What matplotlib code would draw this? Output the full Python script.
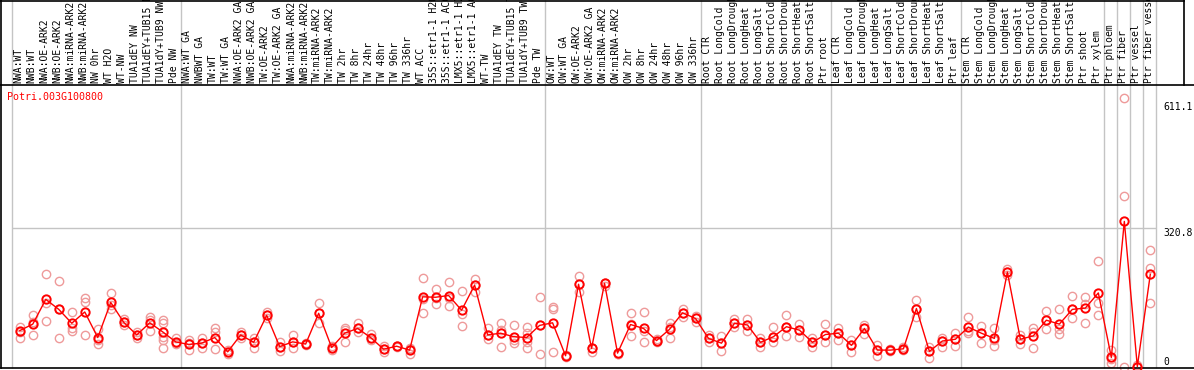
import matplotlib
matplotlib.use("Agg")
import matplotlib.pyplot as plt
import matplotlib.transforms as mtransforms
from matplotlib.lines import Line2D

gene = "Potri.003G100800"

samples = [
    "NWA:WT", "NWB:WT", "NWA:OE-ARK2", "NWB:OE-ARK2", "NWA:miRNA-ARK2", "NWB:miRNA-ARK2",
    "NW 0hr", "WT H2O", "WT-NW", "TUA1dEY NW", "TUA1dEY+TUB15 NW", "TUA1dY+TUB9 NW", "Pde NW",
    "NWA:WT GA", "NWBWT GA", "TW:WT", "TW:WT GA", "NWA:OE-ARK2 GA", "NWB:OE-ARK2 GA",
    "TW:OE-ARK2", "TW:OE-ARK2 GA", "NWA:miRNA-ARK2", "NWB:miRNA-ARK2", "TW:miRNA-ARK2",
    "TW:miRNA-ARK2", "TW 2hr", "TW 8hr", "TW 24hr", "TW 48hr", "TW 96hr", "TW 336hr",
    "WT ACC", "35S::etr1-1 H2O", "35S::etr1-1 ACC", "LMX5::etr1-1 H2O", "LMX5::etr1-1 ACC",
    "WT-TW", "TUA1dEY TW", "TUA1dEY+TUB15 TW", "TUA1dY+TUB9 TW", "Pde TW",
    "OW:WT", "OW:WT GA", "OW:OE-ARK2", "OW:OE-ARK2 GA", "OW:miRNA-ARK2", "OW:miRNA-ARK2",
    "OW 2hr", "OW 8hr", "OW 24hr", "OW 48hr", "OW 96hr", "OW 336hr",
    "Root CTR", "Root LongCold", "Root LongDrought", "Root LongHeat", "Root LongSalt",
    "Root ShortCold", "Root ShortDrought", "Root ShortHeat", "Root ShortSalt", "Ptr root",
    "Leaf CTR", "Leaf LongCold", "Leaf LongDrought", "Leaf LongHeat", "Leaf LongSalt",
    "Leaf ShortCold", "Leaf ShortDrought", "Leaf ShortHeat", "Leaf ShortSalt", "Ptr leaf",
    "Stem CTR", "Stem LongCold", "Stem LongDrought", "Stem LongHeat", "Stem LongSalt",
    "Stem ShortCold", "Stem ShortDrought", "Stem ShortHeat", "Stem ShortSalt", "Ptr shoot",
    "Ptr xylem", "Ptr phloem", "Ptr fiber", "Ptr vessel", "Ptr fiber vessel",
]

# number of samples in each block between grey separators
group_sizes = [13, 28, 12, 10, 10, 11, 1, 1, 1, 1]

means = [
    84, 99, 156, 133, 101, 127, 68, 149, 103, 74, 102, 81, 58,
    52, 55, 68, 35, 74, 57, 119, 47, 58, 53, 124, 45, 78, 89, 68, 41, 48, 39,
    162, 161, 165, 131, 189, 74, 78, 70, 68, 96,
    102, 26, 191, 43, 193, 32, 98, 89, 61, 87, 125, 112,
    66, 55, 101, 97, 57, 70, 93, 85, 57, 75,
    78, 50, 89, 39, 39, 42, 135, 36, 60, 64,
    92, 78, 66, 219, 64, 72, 108, 99, 133, 136, 171,
    22, 336, 1, 214,
]

replicates = [
    [92, 80, 66], [119, 103, 74], [214, 147, 106], [198, 133, 68], [128, 89, 83],
    [159, 151, 73], [87, 62, 53], [170, 142, 135], [111, 103, 96], [80, 74, 66],
    [116, 108, 82], [108, 102, 70, 62, 43], [68, 55, 52],
    [62, 55, 39], [68, 55, 43], [89, 80, 41], [39, 35, 31], [81, 74, 66], [68, 57, 43],
    [127, 119, 112], [58, 47, 36], [74, 58, 45], [56, 53, 50], [147, 124, 101],
    [49, 45, 40], [89, 85, 58], [102, 90, 80], [76, 68, 62], [49, 41, 35], [49, 48, 47],
    [45, 41, 30], [205, 158, 124], [179, 159, 145], [196, 160, 141], [175, 122, 95],
    [203, 189, 174], [89, 74, 64], [102, 85, 47], [98, 62, 55], [92, 79, 58, 43],
    [161, 98, 29],
    [139, 133, 34], [28, 26, 24], [210, 191, 174], [45, 43, 35], [195, 193, 186],
    [33, 31, 30], [124, 99, 72], [127, 82, 58], [64, 61, 58], [101, 93, 66],
    [135, 125, 115], [117, 112, 104],
    [74, 66, 57], [72, 55, 37], [110, 101, 92], [110, 97, 84], [68, 57, 47],
    [93, 70, 58], [119, 93, 72], [99, 85, 69], [68, 57, 46], [99, 75, 58],
    [91, 78, 62], [62, 50, 35], [96, 89, 76], [50, 39, 25], [41, 39, 37],
    [46, 42, 39], [155, 135, 115], [47, 36, 21], [67, 60, 47], [78, 64, 49],
    [115, 82, 78], [95, 78, 55], [89, 62, 49], [226, 219, 212], [74, 64, 52],
    [89, 80, 45], [129, 108, 87], [133, 87, 76], [164, 133, 112], [161, 146, 101],
    [245, 148, 121],
    [39, 18, 10], [620, 394, 0], [5, 0, 0], [269, 228, 147],
]

y_ticks = [0, 320.8, 611.1]
y_tick_labels = ["0", "320.8", "611.1"]

W, H = 1194, 370
plt.rcParams["font.family"] = ["DejaVu Sans Mono"]

fig = plt.figure(figsize=(W / 100, H / 100), dpi=100)
ax = fig.add_axes([0.5 / W, 2 / H, 1 - 0.5 / W, 283 / H])

x0_px, step_px = 19.3, 13.0
ax.set_xlim(-x0_px / step_px, (W - x0_px) / step_px)
ax.set_ylim(-1 / 0.4333, 282 / 0.4333)
ax.set_xticks([])
ax.set_yticks([])
ax.spines["right"].set_visible(False)
for s in ("left", "top", "bottom"):
    ax.spines[s].set_linewidth(1.2)

n = len(samples)
xs = list(range(n))
grey = "#c4c4c4"
trans = mtransforms.blended_transform_factory(ax.transData, ax.transAxes)

# separators between sample blocks, running through the label header
bounds = [-0.6]
pos = -0.6
for g in group_sizes:
    pos += g
    bounds.append(pos)
ax.vlines(bounds, 0, 368 / 283, transform=trans, colors=grey, lw=1, clip_on=False, zorder=1)
ax.hlines(320.8, bounds[0], bounds[-1], colors=grey, lw=1, zorder=1)

for i, reps in enumerate(replicates):
    ax.plot([i] * len(reps), reps, "o", mfc="none", mec="#ee9a9a", ms=6, mew=1,
            clip_on=False, zorder=2)
ax.plot(xs, means, "-", color="red", lw=1, zorder=3)
ax.plot(xs, means, "o", mfc="none", mec="red", ms=6, mew=1.4, clip_on=False, zorder=4)

for i, s in enumerate(samples):
    ax.text(i - 0.12, 1.006, s, transform=trans, rotation=90, ha="center", va="bottom",
            fontsize=7, clip_on=False)

for v, lab in zip(y_ticks, y_tick_labels):
    ax.text(1163 / W, v, lab, transform=mtransforms.blended_transform_factory(ax.transAxes, ax.transData),
            ha="left", va="bottom" if v == 0 else "top", fontsize=7)

fig.text(7 / W, 1 - 97 / H, gene, color="red", ha="left", va="center", fontsize=7.2)

# header frame
fig.add_artist(Line2D([0, 1184 / W], [1 - 0.5 / H, 1 - 0.5 / H], color="black", lw=1.2,
                      transform=fig.transFigure))
fig.add_artist(Line2D([1183.5 / W, 1183.5 / W], [1, 1 - 85 / H], color="black", lw=1.2,
                      transform=fig.transFigure))
fig.add_artist(Line2D([0.5 / W, 0.5 / W], [1, 1 - 85 / H], color="black", lw=1.2,
                      transform=fig.transFigure))

fig.savefig("out.png", dpi=100)
